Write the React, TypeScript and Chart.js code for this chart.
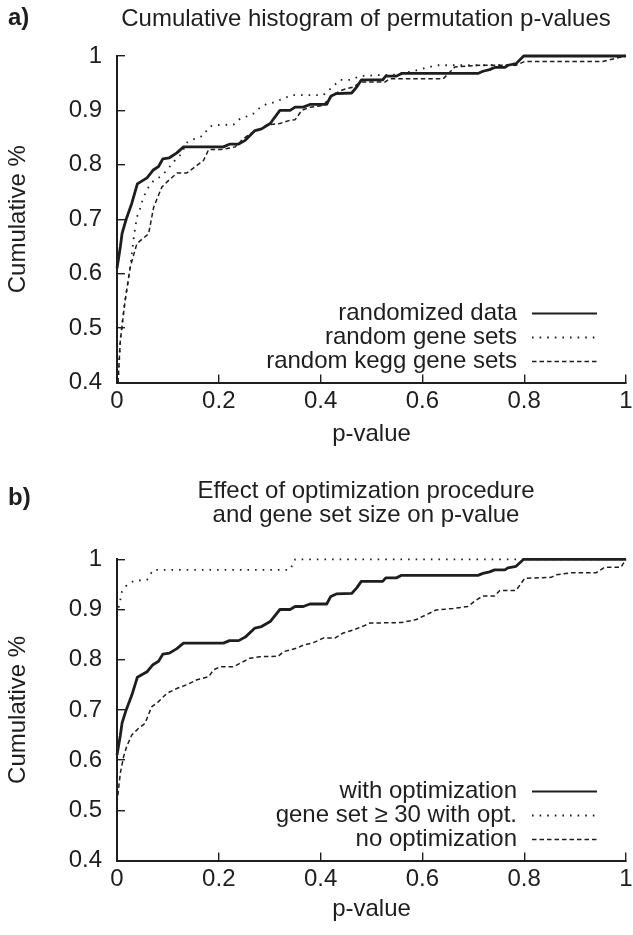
import React, { useEffect, useRef } from 'react';
import { Chart, registerables } from 'chart.js';

Chart.register(...registerables);

const FONT = "'Liberation Sans', Arial, Helvetica, sans-serif";
const INK = '#1e1e1e';

// ---- tick labels ----
const xTickValues = [0, 0.2, 0.4, 0.6, 0.8, 1];
const xTickLabels = ['0', '0.2', '0.4', '0.6', '0.8', '1'];
const yTickValues = [0.4, 0.5, 0.6, 0.7, 0.8, 0.9, 1];
const yTickLabels = ['0.4', '0.5', '0.6', '0.7', '0.8', '0.9', '1'];

// ---- titles / legends ----
const titleA = ['Cumulative histogram of permutation p-values'];
const titleB = ['Effect of optimization procedure', 'and gene set size on p-value'];
const legendA = ['randomized data', 'random gene sets', 'random kegg gene sets'];
const legendB = ['with optimization', 'gene set \u2265 30 with opt.', 'no optimization'];

// ---- series: randomized data / with optimization (same curve) ----
const optX = [0, 0.0065, 0.01, 0.018, 0.029, 0.04, 0.059, 0.0706, 0.0817, 0.09, 0.103, 0.1176, 0.1307, 0.209, 0.221, 0.239, 0.252, 0.271, 0.284, 0.301, 0.32, 0.34, 0.35, 0.366, 0.379, 0.412, 0.42, 0.431, 0.461, 0.471, 0.48, 0.522, 0.528, 0.549, 0.559, 0.709, 0.719, 0.732, 0.742, 0.762, 0.768, 0.784, 0.799, 1.0];
const optY = [0.61, 0.649, 0.674, 0.7, 0.729, 0.765, 0.776, 0.79, 0.797, 0.811, 0.813, 0.822, 0.833, 0.833, 0.838, 0.838, 0.845, 0.863, 0.866, 0.876, 0.9, 0.9, 0.906, 0.906, 0.911, 0.911, 0.926, 0.931, 0.932, 0.943, 0.956, 0.956, 0.963, 0.963, 0.968, 0.968, 0.972, 0.975, 0.979, 0.979, 0.983, 0.986, 1.0, 1.0];

// ---- random gene sets ----
const rgsX = [0.002, 0.0065, 0.013, 0.019, 0.026, 0.033, 0.039, 0.044, 0.052, 0.062, 0.072, 0.085, 0.095, 0.103, 0.111, 0.118, 0.127, 0.136, 0.144, 0.154, 0.17, 0.18, 0.19, 0.229, 0.242, 0.255, 0.268, 0.278, 0.294, 0.31, 0.327, 0.343, 0.405, 0.422, 0.438, 0.458, 0.477, 0.516, 0.55, 0.57, 0.59, 0.61, 0.63, 0.78, 0.8, 1.0];
const rgsY = [0.4, 0.477, 0.532, 0.569, 0.612, 0.667, 0.704, 0.715, 0.741, 0.759, 0.771, 0.778, 0.787, 0.796, 0.805, 0.813, 0.82, 0.84, 0.845, 0.848, 0.854, 0.869, 0.873, 0.874, 0.885, 0.889, 0.894, 0.903, 0.912, 0.915, 0.922, 0.928, 0.928, 0.942, 0.956, 0.956, 0.963, 0.965, 0.966, 0.97, 0.974, 0.979, 0.983, 0.983, 1.0, 1.0];

// ---- random kegg gene sets ----
const keggX = [0.002, 0.0065, 0.016, 0.026, 0.039, 0.05, 0.062, 0.072, 0.088, 0.101, 0.118, 0.137, 0.157, 0.17, 0.18, 0.203, 0.216, 0.232, 0.245, 0.261, 0.275, 0.294, 0.32, 0.34, 0.35, 0.363, 0.379, 0.405, 0.422, 0.444, 0.464, 0.48, 0.526, 0.536, 0.641, 0.664, 0.713, 0.784, 0.801, 0.954, 1.0];
const keggY = [0.4, 0.477, 0.551, 0.612, 0.655, 0.664, 0.673, 0.722, 0.759, 0.771, 0.785, 0.785, 0.799, 0.808, 0.828, 0.828, 0.83, 0.833, 0.845, 0.857, 0.862, 0.873, 0.876, 0.882, 0.883, 0.9, 0.906, 0.909, 0.928, 0.938, 0.943, 0.952, 0.952, 0.958, 0.958, 0.98, 0.983, 0.983, 0.99, 0.99, 1.0];

// ---- gene set >= 30 with opt. ----
const big30X = [0, 0.0065, 0.0098, 0.0196, 0.033, 0.059, 0.071, 0.34, 0.35, 1.0];
const big30Y = [0.889, 0.919, 0.936, 0.949, 0.957, 0.959, 0.979, 0.979, 1.0, 1.0];

// ---- no optimization ----
const noOptX = [0, 0.0065, 0.013, 0.019, 0.029, 0.042, 0.055, 0.068, 0.081, 0.098, 0.118, 0.137, 0.157, 0.18, 0.19, 0.203, 0.229, 0.242, 0.261, 0.281, 0.317, 0.327, 0.353, 0.366, 0.386, 0.405, 0.428, 0.444, 0.464, 0.484, 0.497, 0.559, 0.588, 0.627, 0.66, 0.689, 0.706, 0.719, 0.742, 0.752, 0.784, 0.801, 0.853, 0.862, 0.892, 0.941, 0.958, 0.99, 1.0];
const noOptY = [0.515, 0.574, 0.607, 0.627, 0.65, 0.663, 0.673, 0.706, 0.716, 0.733, 0.743, 0.75, 0.76, 0.766, 0.78, 0.786, 0.786, 0.793, 0.803, 0.806, 0.807, 0.816, 0.823, 0.829, 0.834, 0.843, 0.843, 0.853, 0.859, 0.867, 0.873, 0.874, 0.88, 0.899, 0.902, 0.906, 0.919, 0.927, 0.927, 0.938, 0.938, 0.962, 0.964, 0.969, 0.973, 0.973, 0.984, 0.984, 1.0];

type Style = 'solid' | 'dotted' | 'dashed';

const zip = (xs: number[], ys: number[]) => xs.map((x, i) => ({ x, y: ys[i] }));

function lineDataset(label: string, xs: number[], ys: number[], style: Style) {
  const base: any = {
    label,
    data: zip(xs, ys),
    borderColor: INK,
    backgroundColor: INK,
    pointRadius: 0,
    pointHoverRadius: 0,
    tension: 0,
    fill: false,
    clip: 6,
    borderJoinStyle: 'round',
  };
  if (style === 'solid') {
    base.borderWidth = 2.8;
  } else if (style === 'dotted') {
    base.borderWidth = 1.8;
    base.borderDash = [1.6, 6];
  } else {
    base.borderWidth = 1.5;
    base.borderDash = [4.5, 3];
  }
  return base;
}

const insetLegend = {
  id: 'insetLegend',
  afterDatasetsDraw(chart: any) {
    const { ctx, chartArea } = chart;
    ctx.save();
    ctx.font = `24px ${FONT}`;
    ctx.fillStyle = INK;
    ctx.textAlign = 'right';
    ctx.textBaseline = 'middle';
    chart.data.datasets.forEach((ds: any, i: number) => {
      const y = chartArea.bottom - 69 + 24 * i;
      ctx.fillText(ds.label, chartArea.right - 109, y);
      ctx.beginPath();
      ctx.strokeStyle = ds.borderColor;
      ctx.lineWidth = Math.min(ds.borderWidth, 2);
      ctx.setLineDash(ds.borderDash || []);
      ctx.moveTo(chartArea.right - 94, y);
      ctx.lineTo(chartArea.right - 29, y);
      ctx.stroke();
    });
    ctx.restore();
  },
};

const panelText = {
  id: 'panelText',
  afterDraw(chart: any, _args: any, opts: any) {
    const { ctx } = chart;
    ctx.save();
    ctx.fillStyle = INK;
    ctx.textBaseline = 'middle';
    ctx.font = `bold 24px ${FONT}`;
    ctx.textAlign = 'left';
    ctx.fillText(opts.letter, 8, opts.letterY);
    ctx.font = `24px ${FONT}`;
    ctx.textAlign = 'center';
    (opts.lines as string[]).forEach((t, i) => ctx.fillText(t, opts.cx, opts.y0 + i * opts.gap));
    ctx.restore();
  },
};

interface PanelProps {
  top: number;
  height: number;
  areaTop: number;
  areaBottom: number;
  titleY: number;
  letterY: number;
  letter: string;
  lines: string[];
  datasets: any[];
}

function Panel(p: PanelProps) {
  const ref = useRef<HTMLCanvasElement | null>(null);
  useEffect(() => {
    if (!ref.current) return;
    const axisFont = { family: FONT, size: 24 };
    const chart = new Chart(ref.current, {
      type: 'line',
      data: { datasets: p.datasets },
      options: {
        animation: false,
        responsive: false,
        maintainAspectRatio: false,
        devicePixelRatio: 1,
        events: [],
        layout: { padding: { left: 0, right: 7, top: p.areaTop, bottom: 0 } },
        plugins: {
          legend: { display: false },
          tooltip: { enabled: false },
          title: { display: false },
          panelText: { letter: p.letter, letterY: p.letterY, lines: p.lines, cx: 366, y0: p.titleY, gap: 24 },
        } as any,
        scales: {
          x: {
            type: 'linear',
            min: 0,
            max: 1,
            afterBuildTicks: (s: any) => { s.ticks = xTickValues.map((v) => ({ value: v })); },
            afterFit: (s: any) => {
              s.height = p.height - p.areaBottom;
              s.paddingLeft = 0;
              s.paddingRight = 0;
            },
            ticks: {
              font: axisFont,
              color: INK,
              padding: 12,
              maxRotation: 0,
              autoSkip: false,
              callback: (v: any) => xTickLabels[xTickValues.findIndex((t) => Math.abs(t - v) < 1e-9)] ?? '',
            },
            grid: { drawOnChartArea: false, drawTicks: true, tickLength: -8, color: INK, lineWidth: 1.4 },
            border: { display: true, color: INK, width: 2 },
            title: { display: true, text: 'p-value', font: axisFont, color: INK, padding: { top: 0, bottom: 11 } },
          },
          y: {
            type: 'linear',
            min: 0.4,
            max: 1,
            afterBuildTicks: (s: any) => { s.ticks = yTickValues.map((v) => ({ value: v })); },
            afterFit: (s: any) => {
              s.width = 117;
              s.paddingTop = 0;
              s.paddingBottom = 0;
            },
            ticks: {
              font: axisFont,
              color: INK,
              padding: 23,
              autoSkip: false,
              callback: (v: any) => yTickLabels[yTickValues.findIndex((t) => Math.abs(t - v) < 1e-9)] ?? '',
            },
            grid: { drawOnChartArea: false, drawTicks: true, tickLength: -8, color: INK, lineWidth: 1.4 },
            border: { display: true, color: INK, width: 2 },
            title: { display: true, text: 'Cumulative %', font: axisFont, color: INK, padding: { top: 4, bottom: 0 } },
          },
        },
      } as any,
      plugins: [insetLegend, panelText],
    });
    return () => chart.destroy();
  }, []);
  return (
    <canvas
      ref={ref}
      width={633}
      height={p.height}
      style={{ position: 'absolute', left: 0, top: p.top, width: 633, height: p.height }}
    />
  );
}

export default function App() {
  const dsA = [
    lineDataset(legendA[0], optX, optY, 'solid'),
    lineDataset(legendA[1], rgsX, rgsY, 'dotted'),
    lineDataset(legendA[2], keggX, keggY, 'dashed'),
  ];
  const dsB = [
    lineDataset(legendB[0], optX, optY, 'solid'),
    lineDataset(legendB[1], big30X, big30Y, 'dotted'),
    lineDataset(legendB[2], noOptX, noOptY, 'dashed'),
  ];
  return (
    <div style={{ position: 'absolute', left: 0, top: 0, width: 633, height: 935, background: '#fff', overflow: 'hidden' }}>
      <Panel top={0} height={460} areaTop={56} areaBottom={382.5} titleY={19} letterY={18} letter="a)" lines={titleA} datasets={dsA} />
      <Panel top={460} height={475} areaTop={99.3} areaBottom={400.5} titleY={31} letterY={38} letter="b)" lines={titleB} datasets={dsB} />
    </div>
  );
}
